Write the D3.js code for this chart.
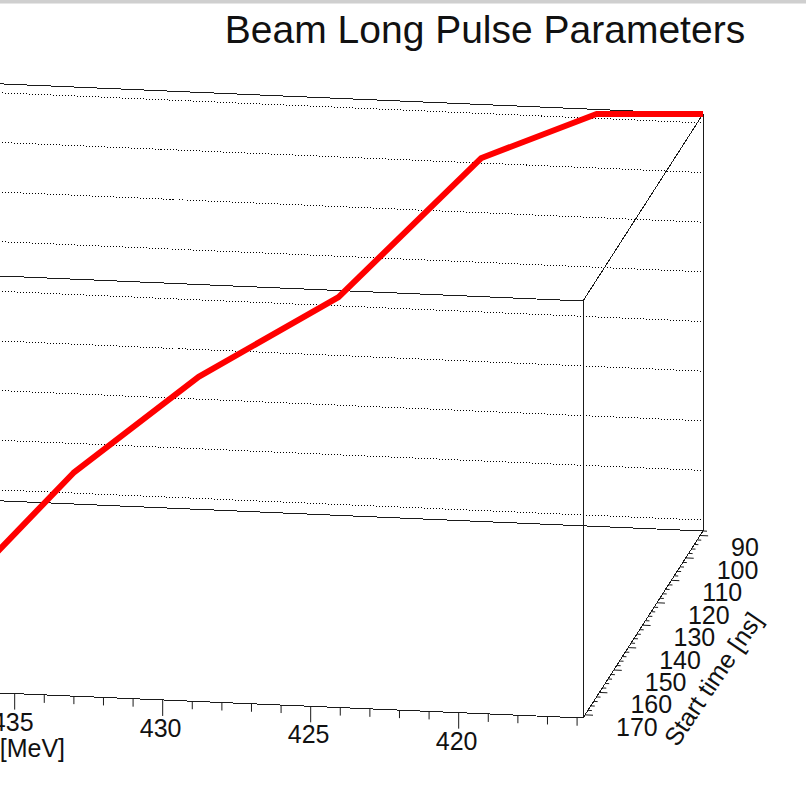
<!DOCTYPE html>
<html>
<head>
<meta charset="utf-8">
<script src="https://cdn.jsdelivr.net/npm/d3@7"></script>
<style>
  body { margin: 0; background: #fff; }
  svg { display: block; font-family: "Liberation Sans", Arial, Helvetica, sans-serif; }
</style>
</head>
<body>
<svg></svg>
<script>
// Data (beam energy, start time, third coordinate of the 3D polyline)
const energy = [415.8, 419.3, 422.7, 426.8, 430.8, 434.3, 440.0]
const startTime = [88, 90, 100, 115, 130, 145, 171.4]
const pulseZ = [101.8, 101.8, 96.6, 74.3, 64.0, 50.5, 17.8]

const energyTicks = [420, 425, 430, 435, 440]
const timeTicks = [90, 100, 110, 120, 130, 140, 150, 160, 170]
const zTicks = [20, 30, 40, 50, 60, 70, 80, 90, 100]

const title = 'Beam Long Pulse Parameters'
const xTitle = 'Energy [MeV]'
const yTitle = 'Start time [ns]'

// Initialization
const width = 806
const height = 793
const svg = d3.select('svg').attr('width', width).attr('height', height)

const eMin = d3.min(energy), eMax = d3.max(energy)
const tMin = d3.min(startTime), tMax = d3.max(startTime)
const zMin = d3.min(pulseZ), zMax = d3.max(pulseZ)

// oblique parallel projection, origin at (eMin, tMax, zMin)
const origin = [583, 718]
const eS = d3.scaleLinear().domain([eMin, eMax]).range([0, 1])
const tS = d3.scaleLinear().domain([tMax, tMin]).range([0, 1])
const zS = d3.scaleLinear().domain([zMin, zMax]).range([0, 1])
const eVec = [-29.6 * (eMax - eMin), -1.27 * (eMax - eMin)]
const tVec = [120, -187]
const zVec = [0, -417]

function project(e, t, z) {
  const a = eS(e), b = tS(t), c = zS(z)
  return [
    origin[0] + a * eVec[0] + b * tVec[0] + c * zVec[0],
    origin[1] + a * eVec[1] + b * tVec[1] + c * zVec[1],
  ]
}

// top frame strip
svg.append('rect').attr('x', 0).attr('y', 0).attr('width', width).attr('height', 3).attr('fill', '#cfcfcf')
svg.append('rect').attr('x', 0).attr('y', 3).attr('width', width).attr('height', 1).attr('fill', '#e6e6e6')

const seg = (g, p, q) =>
  g.append('line')
    .attr('x1', p[0]).attr('y1', p[1])
    .attr('x2', q[0]).attr('y2', q[1])

// Grid on back walls
const grid = svg.append('g')
  .attr('stroke', '#000')
  .attr('stroke-width', 1)
  .attr('stroke-dasharray', '1,2')
  .attr('shape-rendering', 'crispEdges')
zTicks.forEach((z) => {
  seg(grid, project(eMax, tMin, z), project(eMin, tMin, z))
  seg(grid, project(eMax, tMax, z), project(eMax, tMin, z))
})

// Box
const box = svg.append('g')
  .attr('stroke', '#1a1a1a')
  .attr('stroke-width', 1)
  .attr('shape-rendering', 'crispEdges')
// back walls
seg(box, project(eMax, tMin, zMax), project(eMin, tMin, zMax))
seg(box, project(eMax, tMin, zMin), project(eMin, tMin, zMin))
seg(box, project(eMin, tMin, zMin), project(eMin, tMin, zMax))
seg(box, project(eMax, tMin, zMin), project(eMax, tMin, zMax))
seg(box, project(eMax, tMax, zMax), project(eMax, tMin, zMax))
seg(box, project(eMax, tMax, zMin), project(eMax, tMin, zMin))
// front edges
seg(box, project(eMax, tMax, zMax), project(eMin, tMax, zMax))
seg(box, project(eMax, tMax, zMin), project(eMin, tMax, zMin))
seg(box, project(eMin, tMax, zMin), project(eMin, tMax, zMax))
seg(box, project(eMax, tMax, zMax), project(eMax, tMax, zMin))
seg(box, project(eMin, tMax, zMax), project(eMin, tMin, zMax))
seg(box, project(eMin, tMax, zMin), project(eMin, tMin, zMin))

// X axis (energy) along front bottom edge
const xAxis = svg.append('g')
  .attr('stroke', '#1a1a1a')
  .attr('stroke-width', 1)
d3.range(Math.ceil(eMin), Math.floor(eMax) + 1, 1).forEach((e) => {
  const p = project(e, tMax, zMin)
  const len = e % 5 === 0 ? 16 : 8
  seg(xAxis, p, [p[0], p[1] + len])
})
svg.append('g')
  .selectAll('text')
  .data(energyTicks)
  .join('text')
  .attr('x', (d) => project(d, tMax, zMin)[0] - 2)
  .attr('y', (d) => project(d, tMax, zMin)[1] + 37)
  .attr('text-anchor', 'middle')
  .attr('font-size', 25)
  .attr('fill', '#111')
  .text((d) => d)
svg.append('text')
  .attr('x', 65)
  .attr('y', 757)
  .attr('text-anchor', 'end')
  .attr('font-size', 25)
  .attr('fill', '#111')
  .text(xTitle)

// Y axis (start time) along right bottom edge
const yAxis = svg.append('g')
  .attr('stroke', '#1a1a1a')
  .attr('stroke-width', 1)
d3.range(Math.ceil(tMin / 2) * 2, tMax, 2).forEach((t) => {
  const p = project(eMin, t, zMin)
  const len = t % 10 === 0 ? 8 : 4
  seg(yAxis, p, [p[0] + len, p[1] + len * 0.043])
})
svg.append('g')
  .selectAll('text')
  .data(timeTicks)
  .join('text')
  .attr('x', (d) => project(eMin, d, zMin)[0] + 31)
  .attr('y', (d) => project(eMin, d, zMin)[1] + 21)
  .attr('text-anchor', 'start')
  .attr('font-size', 25)
  .attr('fill', '#111')
  .text((d) => d)
svg.append('text')
  .attr('transform', 'translate(713,679) rotate(-56)')
  .attr('text-anchor', 'middle')
  .attr('dy', '0.35em')
  .attr('font-size', 25)
  .attr('fill', '#111')
  .text(yTitle)

// Data line
const pts = energy.map((e, i) => project(e, startTime[i], pulseZ[i]))
svg.append('path')
  .attr('d', d3.line()(pts))
  .attr('fill', 'none')
  .attr('stroke', '#ff0000')
  .attr('stroke-width', 6)
  .attr('stroke-linejoin', 'round')

// Title
svg.append('text')
  .attr('x', 485)
  .attr('y', 43)
  .attr('text-anchor', 'middle')
  .attr('font-size', 39)
  .attr('fill', '#111')
  .text(title)
</script>
</body>
</html>
